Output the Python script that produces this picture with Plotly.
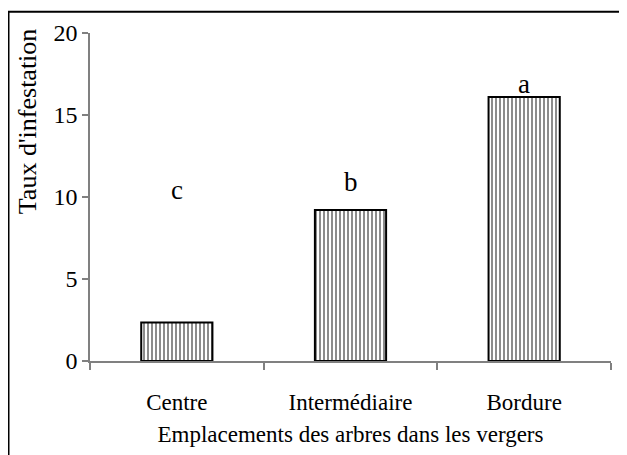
import plotly.graph_objects as go

categories = ["Centre", "Intermédiaire", "Bordure"]
values = [2.35, 9.2, 16.1]
letters = ["c", "b", "a"]
letter_y = [10.45, 10.9, 16.9]
y_ticks = [0, 5, 10, 15, 20]

FONT = "Liberation Serif"
# page has an 8px body margin; figure coordinates are screen minus 8
W, H = 619, 447
L, R, T, B = 82, 16, 24, 92
pw, ph = W - L - R, H - T - B

fig = go.Figure()
fig.add_trace(go.Bar(
    x=categories, y=values, width=0.41,
    marker=dict(color="white",
                line=dict(color="black", width=2),
                pattern=dict(shape="|", fgcolor="black", bgcolor="white",
                             size=4, solidity=0.45, fillmode="overlay")),
    showlegend=False, hoverinfo="skip",
))

for c, t, yy in zip(categories, letters, letter_y):
    fig.add_annotation(x=c, y=yy, text=t, showarrow=False, yanchor="middle",
                       font=dict(family=FONT, size=27, color="black"))

fig.add_annotation(xref="paper", yref="paper", x=(19 - L) / pw, y=(H - B - 113) / ph,
                   text="Taux d'infestation", textangle=-90, showarrow=False,
                   xanchor="center", yanchor="middle",
                   font=dict(family=FONT, size=26, color="black"))

# outer frame (open to the right/bottom, beyond the window)
fig.add_shape(type="rect", xref="paper", yref="paper",
              x0=(0.5 - L) / pw, x1=(W + 20 - L) / pw,
              y0=(H - B - 2.5) / ph, y1=(H - B - H - 20) / ph,
              line=dict(color="black", width=2), fillcolor="rgba(0,0,0,0)", layer="above")

fig.update_layout(
    width=W, height=H,
    margin=dict(l=L, r=R, t=T, b=B),
    paper_bgcolor="white", plot_bgcolor="white",
    font=dict(family=FONT, size=22, color="black"),
    xaxis=dict(type="category", tickson="boundaries", ticks="outside", ticklen=7,
               tickcolor="#808080", tickwidth=1.5, showline=True, linecolor="#808080",
               linewidth=1.5, showgrid=False, zeroline=False, ticklabelstandoff=20,
               tickfont=dict(family=FONT, size=23, color="black"),
               title=dict(text="Emplacements des arbres dans les vergers",
                          font=dict(family=FONT, size=23, color="black"), standoff=12),
               range=[-0.5, 2.5]),
    yaxis=dict(range=[0, 20], tickvals=y_ticks, ticks="outside", ticklen=6,
               tickcolor="#808080", tickwidth=1.5, showline=True, linecolor="#808080",
               linewidth=1.5, showgrid=False, zeroline=False,
               tickfont=dict(family=FONT, size=24, color="black")),
)

fig.write_html("out.html")
